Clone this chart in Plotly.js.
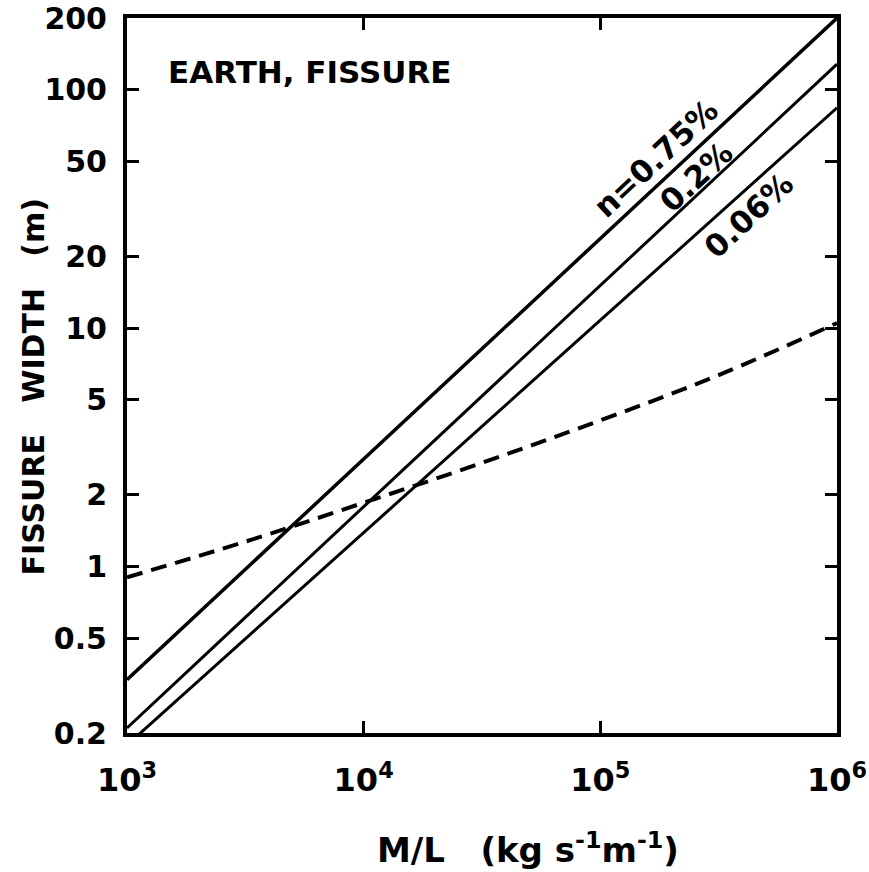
<!DOCTYPE html>
<html>
<head>
<meta charset="utf-8">
<script src="https://cdn.plot.ly/plotly-3.0.1.min.js"></script>
<style>html,body{margin:0;padding:0;background:#fff;}#chart{width:869px;height:872px;}</style>
</head>
<body>
<div id="chart"></div>
<script>
// Mass flux per unit length M/L (kg s^-1 m^-1)
const massFlux = [1e3, 1e6];
// Fissure width (m) for each porosity n
const width075 = [0.335, 200];
const width02 = [0.21, 128];
const width006 = [0.178, 84];
// Dashed curve
const dashX = [1e3, 3162, 1e4, 31623, 1e5, 316228, 1e6];
const dashY = [0.90, 1.27, 1.85, 2.72, 4.1, 6.35, 10.5];

const xTickVals = [1e3, 1e4, 1e5, 1e6];
const xTickText = ['10<sup>3</sup>', '10<sup>4</sup>', '10<sup>5</sup>', '10<sup>6</sup>'];
const yTickVals = [0.2, 0.5, 1, 2, 5, 10, 20, 50, 100, 200];
const yTickText = ['0.2', '0.5', '1', '2', '5', '10', '20', '50', '100', '200'];

const FONT = 'DejaVu Sans, Liberation Sans, Arial, sans-serif';

const traces = [
  {x: massFlux, y: width075, mode: 'lines', line: {color: '#000', width: 3.5}, hoverinfo: 'skip'},
  {x: massFlux, y: width02, mode: 'lines', line: {color: '#000', width: 3}, hoverinfo: 'skip'},
  {x: massFlux, y: width006, mode: 'lines', line: {color: '#000', width: 3}, hoverinfo: 'skip'},
  {x: dashX, y: dashY, mode: 'lines', line: {color: '#000', width: 4, dash: '16px,9px', shape: 'spline'}, hoverinfo: 'skip'}
];

const axisCommon = {
  type: 'log', showgrid: false, zeroline: false,
  showline: true, linecolor: '#000', linewidth: 4, mirror: 'ticks',
  ticks: 'inside', ticklen: 12, tickwidth: 3, tickcolor: '#000'
};

const layout = {
  width: 869, height: 872,
  margin: {l: 127, r: 32, t: 18, b: 139},
  paper_bgcolor: '#fff', plot_bgcolor: '#fff',
  showlegend: false,
  xaxis: Object.assign({}, axisCommon, {
    range: [3, 6], tickvals: xTickVals, ticktext: xTickText,
    tickfont: {family: FONT, size: 32, color: '#000', weight: 'bold'},
    ticklabelstandoff: 16
  }),
  yaxis: Object.assign({}, axisCommon, {
    range: [Math.log10(0.2), Math.log10(200)], tickvals: yTickVals, ticktext: yTickText,
    tickfont: {family: FONT, size: 30, color: '#000', weight: 'bold'},
    ticklabelstandoff: 10
  }),
  annotations: [
    {text: 'EARTH, FISSURE', xref: 'paper', yref: 'paper', x: 0.258, y: 0.924, showarrow: false,
     xanchor: 'center', yanchor: 'middle', font: {family: FONT, size: 31, color: '#000', weight: 'bold'}},
    {text: 'n=0.75%', xref: 'paper', yref: 'paper', x: 0.745, y: 0.804, showarrow: false, textangle: -43,
     xanchor: 'center', yanchor: 'middle', font: {family: FONT, size: 31, color: '#000', weight: 'bold'}},
    {text: '0.2%', xref: 'paper', yref: 'paper', x: 0.801, y: 0.778, showarrow: false, textangle: -43,
     xanchor: 'center', yanchor: 'middle', font: {family: FONT, size: 31, color: '#000', weight: 'bold'}},
    {text: '0.06%', xref: 'paper', yref: 'paper', x: 0.876, y: 0.724, showarrow: false, textangle: -43,
     xanchor: 'center', yanchor: 'middle', font: {family: FONT, size: 31, color: '#000', weight: 'bold'}},
    {text: 'FISSURE\u00A0\u00A0\u00A0WIDTH\u00A0\u00A0\u00A0(m)', xref: 'paper', yref: 'paper', x: -0.132, y: 0.485,
     showarrow: false, textangle: -90, xanchor: 'center', yanchor: 'middle',
     font: {family: FONT, size: 30, color: '#000', weight: 'bold'}},
    {text: 'M/L\u00A0\u00A0\u00A0(kg\u00A0s<sup>-1</sup>m<sup>-1</sup>)', xref: 'paper', yref: 'paper', x: 0.565, y: -0.161,
     showarrow: false, xanchor: 'center', yanchor: 'middle',
     font: {family: FONT, size: 34, color: '#000', weight: 'bold'}}
  ]
};

Plotly.newPlot('chart', traces, layout, {displayModeBar: false, staticPlot: true});
</script>
</body>
</html>
